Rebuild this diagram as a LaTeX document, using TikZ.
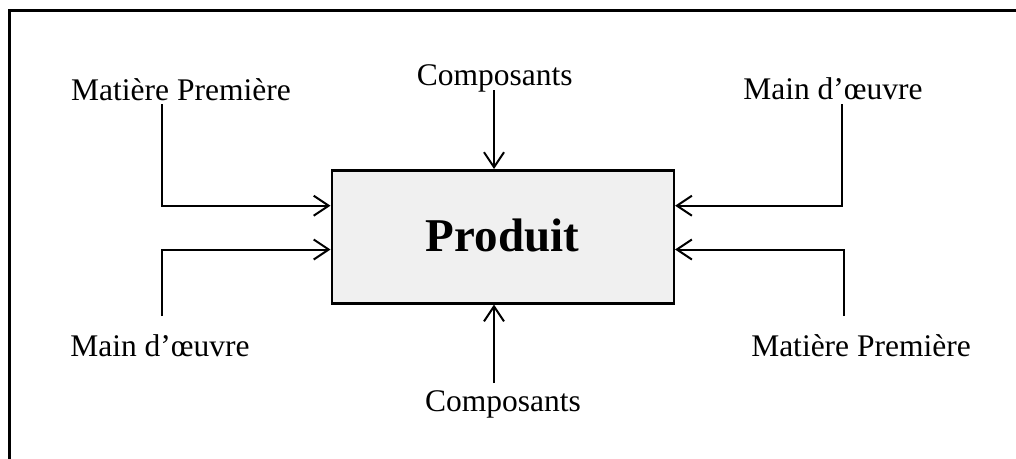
\documentclass[tikz,border=0pt]{standalone}
\usepackage{fontspec}
\setmainfont{Liberation Serif}
\usetikzlibrary{arrows.meta}
\definecolor{boxfill}{HTML}{F0F0F0}
\tikzset{
  lbl/.style={anchor=base, inner sep=0pt, font=\fontsize{31.5}{36}\selectfont},
  prodbox/.style={draw, line width=2.6pt, fill=boxfill, minimum width=342pt, minimum height=133pt, inner sep=0pt},
  prodlbl/.style={anchor=base, inner sep=0pt, font=\fontsize{47}{54}\selectfont\bfseries},
  arr/.style={line width=2pt, -{Straight Barb[length=15pt, width=20pt, line width=2pt]}},
  frame/.style={line width=3pt}
}
\begin{document}
\begin{tikzpicture}[x=1pt, y=-1pt]
\useasboundingbox (0,0) rectangle (1016,458);
\draw[frame] (9.5,460) -- (9.5,10) -- (1018,10);

\node[prodbox] (prod) at (502.8,236.8) {};
\node[prodlbl] (prodtxt) at (502.5,251.7) {Produit};

\node[lbl] (mp1) at (181,100) {Matière Première};
\node[lbl] (c1) at (494.7,85.7) {Composants};
\node[lbl] (md1) at (833,99.5) {Main d’œuvre};
\node[lbl] (md2) at (160,356) {Main d’œuvre};
\node[lbl] (c2) at (503,411.7) {Composants};
\node[lbl] (mp2) at (861,356) {Matière Première};

\coordinate (s1) at (162,104);
\coordinate (s2) at (162,316);
\coordinate (s3) at (494,90);
\coordinate (s4) at (494,383);
\coordinate (s5) at (841.7,104);
\coordinate (s6) at (843.7,316);

\draw[arr] (s1) |- (prod.west |- 0,205.7);
\draw[arr] (s2) |- (prod.west |- 0,249.5);
\draw[arr] (s3) -- (s3 |- prod.north);
\draw[arr] (s4) -- (s4 |- prod.south);
\draw[arr] (s5) |- (prod.east |- 0,205.7);
\draw[arr] (s6) |- (prod.east |- 0,249.5);
\end{tikzpicture}
\end{document}
